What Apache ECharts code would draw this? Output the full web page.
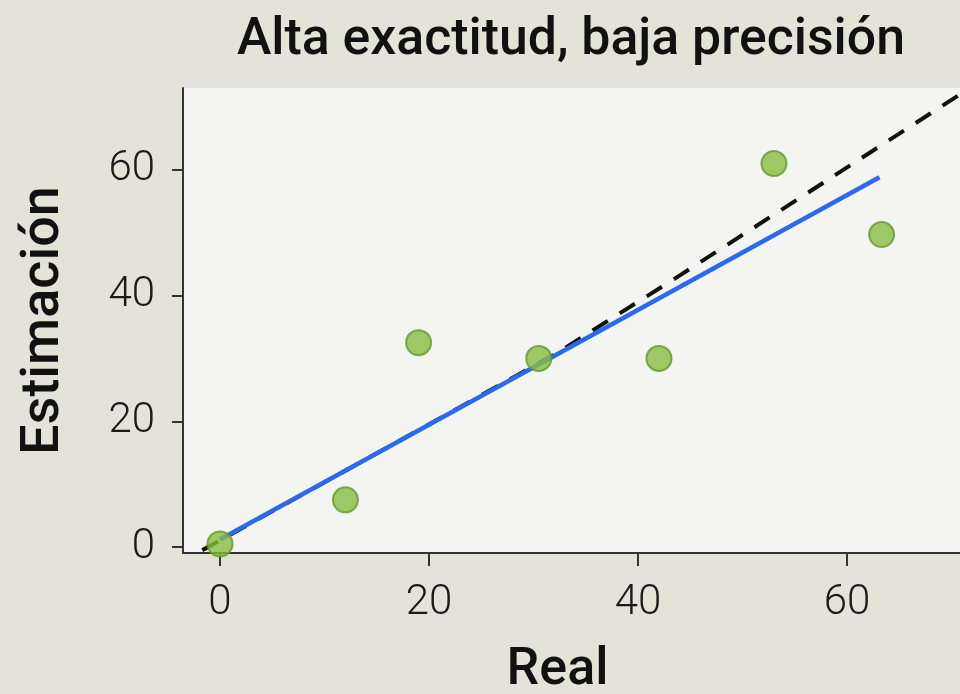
<!DOCTYPE html>
<html>
<head>
<meta charset="utf-8">
<script src="https://cdn.jsdelivr.net/npm/echarts@6/dist/echarts.min.js"></script>
<style>
html,body{margin:0;padding:0;background:#e4e3d8;}
#c{width:960px;height:694px;}
</style>
</head>
<body>
<div id="c"></div>
<script>
const titleText = 'Alta exactitud, baja precisión';
const realValues = [0, 12, 19, 30.5, 42, 53, 63.3];
const estimValues = [0.5, 7.5, 32.5, 30, 30, 61, 49.7];
const fitLine = [[0, 1.2], [63.1, 58.8]];
const identityLine = [[-1.7, -0.5], [32, 30.6], [44, 43.2], [71, 72.2]];
const xTicks = [0, 20, 40, 60];
const yTicks = [0, 20, 40, 60];

const points = realValues.map((x, i) => [x, estimValues[i]]);

// horizontal condensation of the title to match the narrow face of the original
const titleFont = '500 52px Roboto';
const cv = document.createElement('canvas').getContext('2d');
cv.font = titleFont;
const titleW = cv.measureText(titleText).width || 668;
const titleScale = 668 / titleW;

const chart = echarts.init(document.getElementById('c'), null, {renderer: 'canvas'});
chart.setOption({
  backgroundColor: '#e4e3d8',
  animation: false,
  graphic: [{
    type: 'text',
    x: 571, y: 41,
    scaleX: titleScale,
    style: {
      text: titleText,
      font: titleFont,
      fill: '#111',
      align: 'center',
      verticalAlign: 'middle'
    }
  }],
  grid: {
    left: 183, top: 88, right: 0, bottom: 141,
    outerBoundsMode: 'none',
    containLabel: false,
    show: true, backgroundColor: '#f4f4f3', borderWidth: 0
  },
  xAxis: {
    type: 'value', min: -3.54, max: 70.8,
    name: 'Real', nameLocation: 'middle', nameGap: 92,
    nameTextStyle: {fontFamily: 'Roboto', fontSize: 52, fontWeight: 500, color: '#111', padding: [0, 28, 0, 0]},
    axisLine: {show: true, onZero: false, lineStyle: {color: '#333', width: 2}},
    axisTick: {show: true, length: 13, customValues: xTicks, lineStyle: {color: '#333', width: 2}},
    axisLabel: {customValues: xTicks, margin: 29, fontFamily: 'Roboto', fontWeight: 300, fontSize: 42, color: '#1a1a1a'},
    splitLine: {show: false}
  },
  yAxis: {
    type: 'value', min: -0.95, max: 73,
    name: 'Estimación', nameLocation: 'middle', nameGap: 112,
    nameTextStyle: {fontFamily: 'Roboto', fontSize: 54, fontWeight: 500, color: '#111'},
    axisLine: {show: true, onZero: false, lineStyle: {color: '#333', width: 2}},
    axisTick: {show: true, length: 11, customValues: yTicks, lineStyle: {color: '#333', width: 2}},
    axisLabel: {customValues: yTicks, margin: 28, fontFamily: 'Roboto', fontWeight: 300, fontSize: 42, color: '#1a1a1a'},
    splitLine: {show: false}
  },
  series: [
    {
      type: 'line', data: identityLine, symbol: 'none', clip: true, z: 2,
      lineStyle: {color: '#111', width: 4, type: [18, 14]}
    },
    {
      type: 'line', data: fitLine, symbol: 'none', clip: true, z: 3,
      lineStyle: {color: '#2d6ae8', width: 4.5}
    },
    {
      type: 'scatter', data: points, symbolSize: 25, z: 4,
      itemStyle: {color: '#88bc42', borderColor: '#63992c', borderWidth: 2}
    }
  ]
});
</script>
</body>
</html>
